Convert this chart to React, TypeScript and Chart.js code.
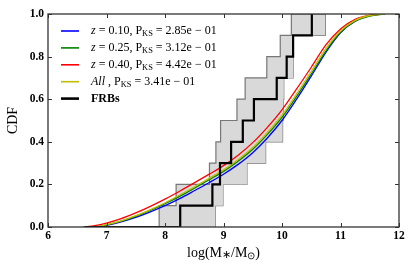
import React, { useEffect, useRef } from 'react';
import { Chart, registerables } from 'chart.js';
Chart.register(...registerables);

// model CDFs (stellar-mass grid)
const massGrid = [6.6, 6.8, 7.0, 7.25, 7.5, 7.75, 8.0, 8.25, 8.5, 8.75, 9.0, 9.25, 9.5, 9.75, 10.0, 10.25, 10.5, 10.75, 11.0, 11.25, 11.5, 11.75];
const cdfZ010 = [0, 0, 0.008, 0.024, 0.045, 0.071, 0.1, 0.133, 0.17, 0.208, 0.248, 0.294, 0.349, 0.418, 0.5, 0.6, 0.708, 0.82, 0.912, 0.966, 0.992, 1.0];
const cdfZ025 = [0, 0, 0.01, 0.027, 0.05, 0.078, 0.109, 0.144, 0.182, 0.221, 0.261, 0.309, 0.365, 0.435, 0.515, 0.613, 0.718, 0.826, 0.914, 0.966, 0.99, 1.0];
const cdfZ040 = [0, 0.006, 0.018, 0.039, 0.066, 0.097, 0.131, 0.168, 0.207, 0.247, 0.288, 0.337, 0.396, 0.468, 0.55, 0.648, 0.75, 0.855, 0.93, 0.975, 0.995, 1.0];
const cdfAll = [0, 0, 0.011, 0.029, 0.053, 0.082, 0.114, 0.15, 0.188, 0.228, 0.268, 0.317, 0.373, 0.444, 0.525, 0.625, 0.73, 0.837, 0.92, 0.97, 0.993, 1.0];

// FRB host empirical CDF
const frbMass = [6.63, 8.26, 8.81, 8.94, 9.13, 9.33, 9.52, 9.91, 10.08, 10.19, 10.51];
const frbCdf = [0, 0.1, 0.2, 0.3, 0.4, 0.5, 0.6, 0.7, 0.8, 0.9, 1.0];

// uncertainty band
const bandUpperMass = [7.9, 7.9, 8.19, 8.76, 8.87, 8.95, 9.23, 9.37, 9.74, 9.97, 10.16, 10.74];
const bandUpperCdf = [0, 0.1, 0.2, 0.3, 0.4, 0.5, 0.6, 0.7, 0.8, 0.9, 1.0, 1.0];
const bandLowerMass = [7.9, 8.86, 8.99, 9.4, 9.72, 10.01, 10.02, 10.03, 10.19, 10.19, 10.74];
const bandLowerCdf = [0, 0.1, 0.2, 0.3, 0.4, 0.5, 0.6, 0.7, 0.8, 0.9, 1.0];

const xTicks = [6, 7, 8, 9, 10, 11, 12];
const yTicks = [0, 0.2, 0.4, 0.6, 0.8, 1.0];

const legendRows = [
  { color: '#0000ff', lw: 1.6, label: 'z', val: ' = 0.10, P', pks: ' = 2.85e \u2212 01' },
  { color: '#008000', lw: 1.6, label: 'z', val: ' = 0.25, P', pks: ' = 3.12e \u2212 01' },
  { color: '#ff0000', lw: 1.6, label: 'z', val: ' = 0.40, P', pks: ' = 4.42e \u2212 01' },
  { color: '#bfbf00', lw: 1.6, label: 'All', val: ' , P', pks: ' = 3.41e \u2212 01' },
  { color: '#000000', lw: 2.6, label: 'FRBs', val: '', pks: '' },
];

const SERIF = '"Liberation Serif", "Times New Roman", serif';

const pts = (xs: number[], ys: number[]) => xs.map((x, i) => ({ x, y: ys[i] }));

function drawRich(ctx: CanvasRenderingContext2D, parts: { t: string; font: string; dy?: number }[], x: number, y: number) {
  let cx = x;
  for (const p of parts) {
    ctx.font = p.font;
    ctx.fillText(p.t, cx, y + (p.dy || 0));
    cx += ctx.measureText(p.t).width;
  }
  return cx - x;
}

const decor = {
  id: 'decor',
  afterDatasetsDraw(chart: any) {
    const { ctx, chartArea: a, scales } = chart;
    const x = scales.x, y = scales.y;
    ctx.save();
    // ticks (inward, all sides)
    ctx.strokeStyle = '#333';
    ctx.lineWidth = 1;
    ctx.beginPath();
    xTicks.forEach((v) => {
      const px = Math.round(x.getPixelForValue(v)) + 0.5;
      ctx.moveTo(px, a.bottom); ctx.lineTo(px, a.bottom - 4);
      ctx.moveTo(px, a.top); ctx.lineTo(px, a.top + 4);
    });
    yTicks.forEach((v) => {
      const py = Math.round(y.getPixelForValue(v)) + 0.5;
      ctx.moveTo(a.left, py); ctx.lineTo(a.left + 4, py);
      ctx.moveTo(a.right, py); ctx.lineTo(a.right - 4, py);
    });
    ctx.stroke();
    // frame
    ctx.strokeStyle = '#333';
    ctx.lineWidth = 1.3;
    ctx.strokeRect(a.left, a.top, a.right - a.left, a.bottom - a.top);

    // legend
    ctx.fillStyle = '#000';
    ctx.textBaseline = 'middle';
    ctx.textAlign = 'left';
    legendRows.forEach((r, i) => {
      const yy = 31 + i * 16.9;
      ctx.strokeStyle = r.color;
      ctx.lineWidth = r.lw;
      ctx.beginPath();
      ctx.moveTo(61, yy); ctx.lineTo(79, yy);
      ctx.stroke();
      const f = 12;
      if (r.label === 'FRBs') {
        drawRich(ctx, [{ t: 'FRBs', font: `bold ${f}px ${SERIF}` }], 91, yy);
      } else {
        drawRich(ctx, [
          { t: r.label, font: `italic ${f}px ${SERIF}` },
          { t: r.val, font: `${f}px ${SERIF}` },
          { t: 'KS', font: `${f * 0.7}px ${SERIF}`, dy: 3 },
          { t: r.pks, font: `${f}px ${SERIF}` },
        ], 91, yy);
      }
    });

    // x axis title
    const fs = 14;
    const xparts = [
      { t: 'log(M', font: `${fs}px ${SERIF}` },
      { t: '\u2217', font: `${fs * 0.75}px ${SERIF}`, dy: 2 },
      { t: '/M', font: `${fs}px ${SERIF}` },
      { t: '\u2299', font: `${fs * 0.7}px ${SERIF}`, dy: 3 },
      { t: ')', font: `${fs}px ${SERIF}` },
    ];
    let w = 0;
    xparts.forEach((p) => { ctx.font = p.font; w += ctx.measureText(p.t).width; });
    const cxm = (a.left + a.right) / 2;
    drawRich(ctx, xparts, cxm - w / 2, 253);

    // y axis title
    ctx.save();
    ctx.translate(13, (a.top + a.bottom) / 2);
    ctx.rotate(-Math.PI / 2);
    ctx.textAlign = 'center';
    ctx.font = `${fs}px ${SERIF}`;
    ctx.fillText('CDF', 0, 0);
    ctx.restore();
    ctx.restore();
  },
};

export default function App() {
  const ref = useRef<HTMLCanvasElement>(null);
  useEffect(() => {
    if (!ref.current) return;
    const line = (data: any, color: string, order: number) => ({
      data, borderColor: color, borderWidth: 1.3, pointRadius: 0, fill: false,
      cubicInterpolationMode: 'monotone', order,
    });
    const tickFont = { family: SERIF, size: 11.5, weight: 700 };
    const chart = new Chart(ref.current, {
      type: 'line',
      data: {
        datasets: [
          { data: pts(frbMass, frbCdf), borderColor: '#000', borderWidth: 2.2, pointRadius: 0, stepped: 'before', fill: false, order: 0 } as any,
          line(pts(massGrid, cdfAll), '#bfbf00', 1),
          line(pts(massGrid, cdfZ040), '#ff0000', 2),
          line(pts(massGrid, cdfZ025), '#008000', 3),
          line(pts(massGrid, cdfZ010), '#0000ff', 4),
          { data: pts(bandUpperMass, bandUpperCdf), borderColor: '#777', borderWidth: 1.2, pointRadius: 0, stepped: 'before', fill: '+1', backgroundColor: '#d9d9d9', order: 5 } as any,
          { data: pts(bandLowerMass, bandLowerCdf), borderColor: '#777', borderWidth: 1.2, pointRadius: 0, stepped: 'before', fill: false, order: 6 } as any,
        ],
      },
      options: {
        animation: false,
        responsive: false,
        layout: { padding: { left: 0, right: 16, top: 14, bottom: 0 } },
        plugins: { legend: { display: false }, tooltip: { enabled: false } },
        scales: {
          x: {
            type: 'linear', min: 6, max: 12,
            grid: { display: false, drawTicks: false },
            border: { display: false },
            afterBuildTicks: (s: any) => { s.ticks = xTicks.map((v) => ({ value: v })); },
            afterFit: (s: any) => { s.height = 50; },
            ticks: { padding: 2, color: '#000', font: tickFont, callback: (v: any) => String(v), maxRotation: 0 },
          },
          y: {
            type: 'linear', min: 0, max: 1,
            grid: { display: false, drawTicks: false },
            border: { display: false },
            afterBuildTicks: (s: any) => { s.ticks = yTicks.map((v) => ({ value: v })); },
            afterFit: (s: any) => { s.width = 48; },
            ticks: { padding: 4, color: '#000', font: tickFont, callback: (v: any) => Number(v).toFixed(1) },
          },
        },
      } as any,
      plugins: [decor],
    });
    return () => chart.destroy();
  }, []);
  return (
    <div style={{ position: 'fixed', left: 0, top: 0, width: 415, height: 277, background: '#fff' }}>
      <canvas ref={ref} width={415} height={277} style={{ display: 'block', width: 415, height: 277 }} />
    </div>
  );
}
